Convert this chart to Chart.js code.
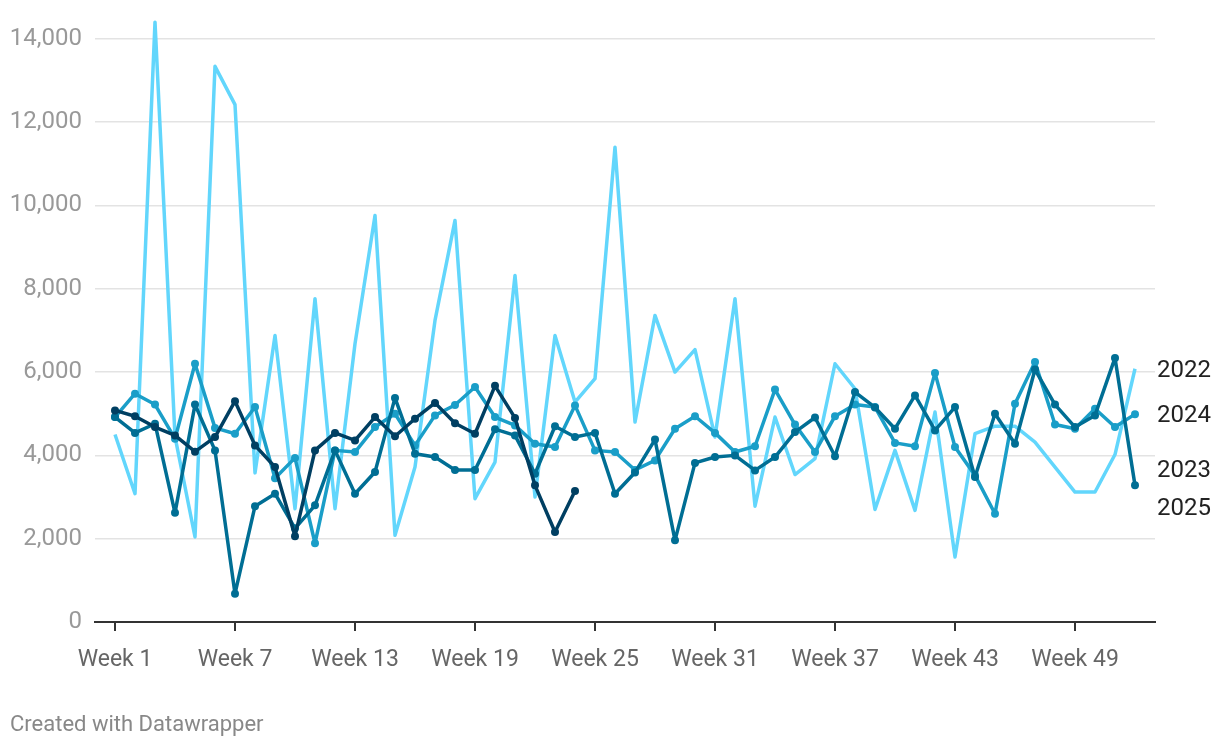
<!DOCTYPE html>
<html>
<head>
<meta charset="utf-8">
<script src="https://cdn.jsdelivr.net/npm/chart.js@4.4.1/dist/chart.umd.min.js"></script>
<style>
  html, body { margin: 0; padding: 0; background: #fff; }
  #wrap { position: relative; width: 1220px; height: 748px; }
  #credit {
    position: absolute; left: 10px; top: 711px;
    font: 22px Roboto, sans-serif; color: #888;
  }
</style>
</head>
<body>
<div id="wrap">
  <canvas id="chart" width="1220" height="748"></canvas>
  <div id="credit">Created with Datawrapper</div>
</div>
<script>
// Weekly values per year
var weeks = [1,2,3,4,5,6,7,8,9,10,11,12,13,14,15,16,17,18,19,20,21,22,23,24,25,26,
             27,28,29,30,31,32,33,34,35,36,37,38,39,40,41,42,43,44,45,46,47,48,49,50,51,52];
var tickWeeks = [1, 7, 13, 19, 25, 31, 37, 43, 49];
var yTicks = [0, 2000, 4000, 6000, 8000, 10000, 12000, 14000];

var v2022 = [4500, 3080, 14400, 4450, 2040, 13340, 12420, 3580, 6880, 2720, 7760, 2720, 6680,
             9760, 2080, 3720, 7240, 9640, 2960, 3840, 8320, 3000, 6880, 5280, 5840, 11400,
             4800, 7360, 6000, 6540, 4440, 7760, 2780, 4920, 3540, 3920, 6200, 5600, 2700,
             4120, 2680, 5040, 1560, 4520, 4700, 4700, 4320, 3720, 3120, 3120, 4020, 6080];
var v2024 = [4920, 5480, 5220, 4400, 6200, 4660, 4520, 5160, 3450, 3940, 1890, 4120, 4080,
             4680, 5000, 4240, 4960, 5210, 5640, 4920, 4720, 4280, 4200, 5200, 4120, 4080,
             3650, 3880, 4640, 4940, 4540, 4080, 4220, 5580, 4740, 4080, 4940, 5220, 5160,
             4300, 4220, 5980, 4200, 3520, 2600, 5240, 6240, 4740, 4640, 5120, 4680, 4990];
var v2023 = [4920, 4540, 4760, 2620, 5220, 4120, 680, 2780, 3080, 2250, 2800, 4120, 3080,
             3600, 5380, 4040, 3960, 3650, 3650, 4630, 4480, 3560, 4700, 4440, 4540, 3080,
             3590, 4380, 1960, 3820, 3960, 4000, 3640, 3960, 4560, 4910, 3980, 5520, 5150,
             4640, 5440, 4600, 5160, 3480, 5000, 4280, 6060, 5220, 4680, 4960, 6340, 3280];
var v2025 = [5080, 4940, 4680, 4480, 4090, 4440, 5300, 4240, 3720, 2060, 4120, 4540, 4360,
             4920, 4460, 4880, 5260, 4770, 4520, 5670, 4900, 3280, 2160, 3144];

function toPoints(vals) {
  return vals.map(function (v, i) { return { x: weeks[i], y: v }; });
}

// labels at the right end of each line, pushed apart when they collide
var endLabels = {
  id: 'endLabels',
  afterDatasetsDraw: function (chart) {
    var ctx = chart.ctx, ys = chart.scales.y;
    var items = chart.data.datasets.map(function (ds) {
      var last = ds.data[ds.data.length - 1];
      return { text: ds.label, y: ys.getPixelForValue(last.y) };
    }).sort(function (a, b) { return a.y - b.y; });
    var gap = 38;
    for (var k = 0; k < 50; k++) {
      for (var i = 0; i < items.length - 1; i++) {
        var d = items[i + 1].y - items[i].y;
        if (d < gap) {
          var push = (gap - d) / 2;
          items[i].y -= push;
          items[i + 1].y += push;
        }
      }
    }
    ctx.save();
    ctx.font = '24px Roboto';
    ctx.fillStyle = '#222';
    ctx.textAlign = 'left';
    ctx.textBaseline = 'middle';
    items.forEach(function (it) {
      ctx.fillText(it.text, chart.chartArea.right + 2, it.y + 2);
    });
    ctx.restore();
  }
};

var ctx = document.getElementById('chart').getContext('2d');
var chart = new Chart(ctx, {
  type: 'line',
  data: {
    datasets: [
      { label: '2025', data: toPoints(v2025), borderColor: '#003f62', backgroundColor: '#003f62',
        borderWidth: 3.5, borderJoinStyle: 'round', pointRadius: 4, pointBorderWidth: 0, order: 0 },
      { label: '2023', data: toPoints(v2023), borderColor: '#006e94', backgroundColor: '#006e94',
        borderWidth: 3.5, borderJoinStyle: 'round', pointRadius: 4, pointBorderWidth: 0, order: 1 },
      { label: '2024', data: toPoints(v2024), borderColor: '#1a9ec8', backgroundColor: '#1a9ec8',
        borderWidth: 3.5, borderJoinStyle: 'round', pointRadius: 4, pointBorderWidth: 0, order: 2 },
      { label: '2022', data: toPoints(v2022), borderColor: '#62d6fc', backgroundColor: '#62d6fc',
        borderWidth: 3.5, borderJoinStyle: 'round', pointRadius: 0, order: 3 }
    ]
  },
  options: {
    responsive: false,
    animation: false,
    events: [],
    clip: false,
    layout: { padding: { top: 18, right: 65, bottom: 0, left: 0 } },
    plugins: { legend: { display: false }, tooltip: { enabled: false } },
    scales: {
      x: {
        type: 'linear',
        min: 0,
        max: 53,
        afterBuildTicks: function (scale) {
          scale.ticks = tickWeeks.map(function (w) { return { value: w }; });
        },
        afterFit: function (scale) { scale.height = 126; },
        ticks: {
          autoSkip: false,
          maxRotation: 0,
          padding: 15,
          color: '#666',
          font: { family: 'Roboto', size: 23 },
          callback: function (v) { return 'Week ' + v; }
        },
        grid: { drawOnChartArea: false, drawTicks: true, tickLength: 9, color: '#333', lineWidth: 2 },
        border: { display: true, color: '#333', width: 2 }
      },
      y: {
        min: 0,
        max: 14500,
        afterBuildTicks: function (scale) {
          scale.ticks = yTicks.map(function (v) { return { value: v }; });
        },
        afterFit: function (scale) {
          scale.width = 95;
          scale.paddingTop = 0;
          scale.paddingBottom = 0;
        },
        ticks: {
          padding: 13,
          color: '#999',
          font: { family: 'Roboto', size: 24 },
          callback: function (v) { return v.toLocaleString('en-US'); }
        },
        grid: {
          drawTicks: false,
          lineWidth: 1.5,
          color: function (c) { return c.tick && c.tick.value === 0 ? 'rgba(0,0,0,0)' : '#e3e3e3'; }
        },
        border: { display: false }
      }
    }
  },
  plugins: [endLabels]
});
</script>
</body>
</html>
